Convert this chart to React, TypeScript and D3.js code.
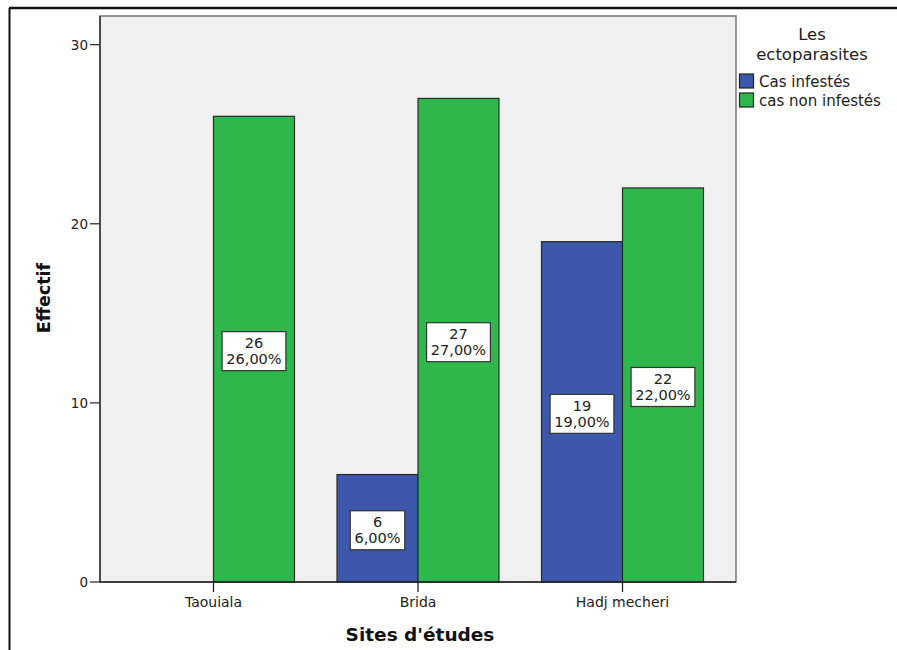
import React from "react";
import * as d3 from "d3";

const categories = ["Taouiala", "Brida", "Hadj mecheri"];
const seriesNames = ["Cas infestés", "cas non infestés"];
const infestes = [0, 6, 19];
const nonInfestes = [26, 27, 22];
const percentLabels = [["", "6,00%", "19,00%"], ["26,00%", "27,00%", "22,00%"]];
const yTicks = [0, 10, 20, 30];
const colors = ["#3d57ab", "#2eb84b"];

const W = 897, H = 650;
const plot = { left: 100, top: 16, right: 736, bottom: 582 };
const FONT = "'DejaVu Sans', sans-serif";

export default function App() {
  const y = d3.scaleLinear().domain([0, 31.6]).range([plot.bottom, plot.top]);
  const x0 = d3.scaleBand<string>().domain(categories).range([plot.left, plot.right]).paddingInner(0.208).paddingOuter(0.159);
  const x1 = d3.scaleBand<number>().domain([0, 1]).range([0, x0.bandwidth()]).padding(0);
  const series = [infestes, nonInfestes];

  const bars: any[] = [];
  series.forEach((vals, si) => {
    vals.forEach((v, ci) => {
      if (v <= 0) return;
      const bx = (x0(categories[ci]) as number) + (x1(si) as number);
      bars.push({ si, ci, v, x: bx, w: x1.bandwidth(), yTop: y(v), label: percentLabels[si][ci] });
    });
  });

  return (
    <svg width={W} height={H} style={{ position: "absolute", left: 0, top: 0, background: "#fff" }} fontFamily={FONT}>
      <rect x={0} y={0} width={W} height={H} fill="#fff" />
      {/* outer frame */}
      <line x1={9} y1={8} x2={W} y2={8} stroke="#111" strokeWidth={2.5} />
      <line x1={9.5} y1={8} x2={9.5} y2={H} stroke="#111" strokeWidth={2} />
      {/* plot background */}
      <rect x={plot.left} y={plot.top} width={plot.right - plot.left} height={plot.bottom - plot.top} fill="#f0f0f0" stroke="#777" strokeWidth={1.5} />
      {/* bars */}
      {bars.map((b, i) => (
        <rect key={i} x={b.x} y={b.yTop} width={b.w} height={plot.bottom - b.yTop} fill={colors[b.si]} stroke="#2a2a2a" strokeWidth={1.2} />
      ))}
      {/* axes */}
      <line x1={plot.left} y1={plot.top} x2={plot.left} y2={plot.bottom} stroke="#333" strokeWidth={1.5} />
      <line x1={plot.left} y1={plot.bottom} x2={plot.right} y2={plot.bottom} stroke="#222" strokeWidth={1.5} />
      {yTicks.map((t) => (
        <g key={t}>
          <line x1={plot.left - 10} x2={plot.left} y1={y(t)} y2={y(t)} stroke="#333" strokeWidth={1.3} />
          <text x={plot.left - 12} y={y(t)} dy="0.36em" textAnchor="end" fontSize={13.5} fill="#222">{t}</text>
        </g>
      ))}
      {categories.map((c) => {
        const cx = (x0(c) as number) + x0.bandwidth() / 2;
        return (
          <g key={c}>
            <line x1={cx} x2={cx} y1={plot.bottom - 0} y2={plot.bottom + 10} stroke="#222" strokeWidth={1.3} />
            <text x={cx} y={607} textAnchor="middle" fontSize={14} fill="#222">{c}</text>
          </g>
        );
      })}
      {/* data labels */}
      {bars.map((b, i) => {
        const cx = b.x + b.w / 2;
        const cy = (b.yTop + plot.bottom) / 2 + 2;
        const tw = b.label.length * 9.3;
        const bw = tw + 8;
        return (
          <g key={"l" + i}>
            <rect x={cx - bw / 2} y={cy - 19.5} width={bw} height={39} fill="#fff" stroke="#333" strokeWidth={1.2} />
            <text x={cx} y={cy - 3} textAnchor="middle" fontSize={14.5} fill="#222">{b.v}</text>
            <text x={cx} y={cy + 13} textAnchor="middle" fontSize={14.5} fill="#222">{b.label}</text>
          </g>
        );
      })}
      {/* axis titles */}
      <text transform={`translate(50,298) rotate(-90)`} textAnchor="middle" fontSize={17.5} fontWeight="bold" fill="#111">Effectif</text>
      <text x={420} y={641} textAnchor="middle" fontSize={18.5} fontWeight="bold" fill="#111">Sites d'études</text>
      {/* legend */}
      <text x={812} y={40} textAnchor="middle" fontSize={16.5} fill="#222">Les</text>
      <text x={812} y={60} textAnchor="middle" fontSize={16.5} fill="#222">ectoparasites</text>
      {seriesNames.map((s, i) => (
        <g key={s}>
          <rect x={739.5} y={74 + i * 19} width={14} height={14} fill={colors[i]} stroke="#222" strokeWidth={1.2} />
          <text x={759} y={86.5 + i * 19} fontSize={15} fill="#222">{s}</text>
        </g>
      ))}
    </svg>
  );
}
